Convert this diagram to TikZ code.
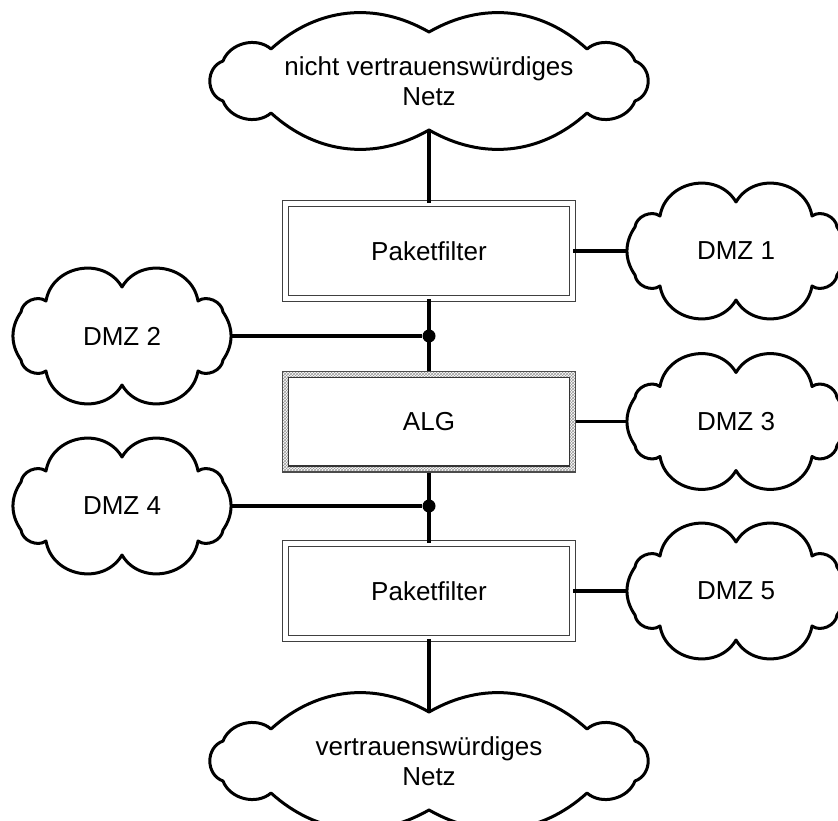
\documentclass[tikz,border=0pt]{standalone}
\usepackage{fontspec}
\setmainfont{Liberation Sans}
\usetikzlibrary{positioning, shapes.geometric, patterns, backgrounds}
\tikzset{
    cloudspot/.style={
        ellipse,
        inner sep=0pt,
        align=center,
        font=\fontsize{26}{30}\selectfont
    },
    dmzspot/.style={
        cloudspot,
        minimum width=218pt,
        minimum height=98pt
    },
    netspot/.style={
        cloudspot,
        minimum width=438pt,
        minimum height=100pt
    },
    cloudline/.style={
        draw=black,
        fill=white,
        line width=3pt,
        line join=round
    },
    filterbox/.style={
        rectangle,
        draw=black!75,
        line width=1.4pt,
        double,
        double distance=4.6pt,
        minimum width=286.6pt,
        minimum height=94.6pt,
        inner sep=0pt,
        font=\fontsize{26}{30}\selectfont
    },
    algframe/.style={
        rectangle,
        draw=black!70,
        line width=1.4pt,
        pattern=crosshatch,
        pattern color=black!40,
        minimum width=292.6pt,
        minimum height=100.6pt
    },
    algbox/.style={
        rectangle,
        draw=black!80,
        line width=1.4pt,
        fill=white,
        minimum width=280.6pt,
        minimum height=88.6pt,
        inner sep=0pt,
        font=\fontsize{26}{30}\selectfont
    },
    joint/.style={
        circle,
        fill=black,
        inner sep=0pt,
        minimum size=13pt
    },
    link/.style={
        line width=3.2pt,
        draw=black
    }
}
% cloud outlines round a named node
\newcommand{\dmzoutline}[1]{%
    \draw[cloudline, shift={(#1.center)}]
        (0,-49) to[bend left=70, looseness=1.2] (76,-35)
        to[bend left=60] (101,-24)
        to[bend left=35] (101,24)
        to[bend left=60] (76,35)
        to[bend left=70, looseness=1.2] (0,49)
        to[bend left=70, looseness=1.2] (-76,35)
        to[bend left=60] (-101,24)
        to[bend left=35] (-101,-24)
        to[bend left=60] (-76,-35)
        to[bend left=70, looseness=1.2] (0,-49) -- cycle;
}
\newcommand{\netoutline}[1]{%
    \draw[cloudline, shift={(#1.center)}]
        (0,-49) to[bend left=36] (158,-32)
        to[bend left=55] (206,-20)
        to[bend left=70, looseness=1.2] (206,20)
        to[bend left=55] (158,32)
        to[bend left=36] (0,49)
        to[bend left=36] (-158,32)
        to[bend left=55] (-206,20)
        to[bend left=70, looseness=1.2] (-206,-20)
        to[bend left=55] (-158,-32)
        to[bend left=36] (0,-49) -- cycle;
}
\begin{document}
\begin{tikzpicture}[x=1pt, y=-1pt]
    \useasboundingbox (0,0) rectangle (838,821);

    \node[netspot] (untrusted) at (429,81) {nicht vertrauenswürdiges\\Netz};
    \node[filterbox] (pf1) at (429,251) {Paketfilter};
    \node[algframe] (algf) at (429,421.5) {};
    \node[algbox] (alg) at (algf) {ALG};
    \node[filterbox] (pf2) at (429,591) {Paketfilter};
    \node[netspot] (trusted) at (429,761) {vertrauenswürdiges\\Netz};

    \node[dmzspot] (dmz1) at (736,251) {DMZ 1};
    \node[dmzspot] (dmz2) at (122,336) {DMZ 2};
    \node[dmzspot] (dmz3) at (736,421.5) {DMZ 3};
    \node[dmzspot] (dmz4) at (122,506) {DMZ 4};
    \node[dmzspot] (dmz5) at (736,591) {DMZ 5};

    \node[joint] (j1) at (429,336) {};
    \node[joint] (j2) at (429,506) {};

    \begin{pgfonlayer}{background}
        \foreach \c in {untrusted, trusted} {\netoutline{\c}}
        \foreach \c in {dmz1, dmz2, dmz3, dmz4, dmz5} {\dmzoutline{\c}}
    \end{pgfonlayer}

    \draw[link] (untrusted) -- (pf1);
    \draw[link] (pf1) -- (algf);
    \draw[link] (algf) -- (pf2);
    \draw[link] (pf2) -- (trusted);
    \draw[link] (pf1) -- (dmz1);
    \draw[link] (algf) -- (dmz3);
    \draw[link] (pf2) -- (dmz5);
    \draw[link] (j1) -- (dmz2);
    \draw[link] (j2) -- (dmz4);
\end{tikzpicture}
\end{document}
